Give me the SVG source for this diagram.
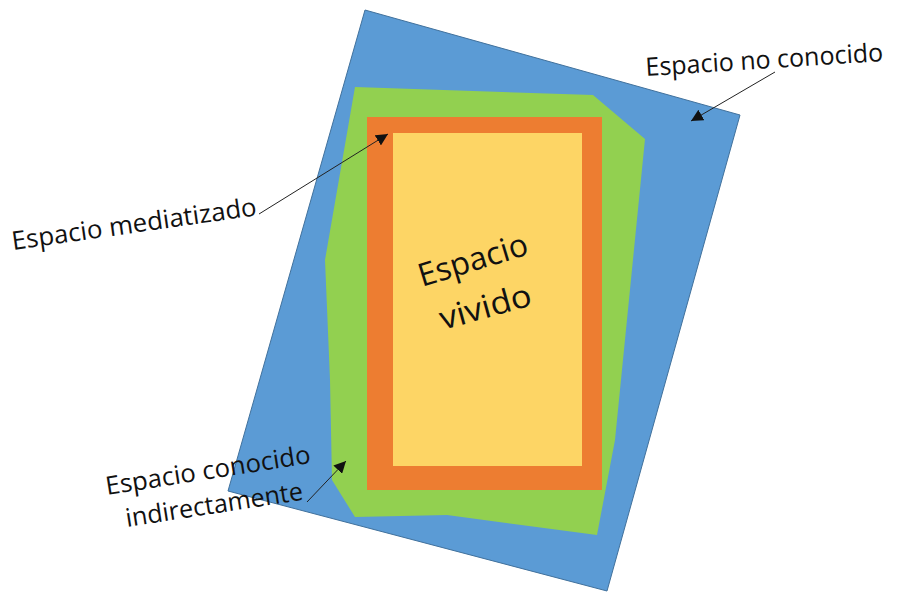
<svg xmlns="http://www.w3.org/2000/svg" width="898" height="596" viewBox="0 0 898 596">
<style>
.lbl{font-family:"Open Sans","Liberation Sans",sans-serif;font-size:25.5px;fill:#111}
.big{font-family:"Open Sans","Liberation Sans",sans-serif;font-size:32px;fill:#111}
.conn{stroke:#222;stroke-width:1;fill:none;marker-end:url(#ah)}
</style>
<defs>
<marker id="ah" viewBox="0 0 10 10" refX="10" refY="5" markerWidth="12" markerHeight="12" markerUnits="userSpaceOnUse" orient="auto">
<path d="M0,0 L10,5 L0,10 z" fill="#111"/>
</marker>
</defs>
<rect width="898" height="596" fill="#fff"/>
<g id="espacio-no-conocido">
<polygon points="365,10 740,115 607,591 228,491" fill="#5B9BD5" stroke="#41719C" stroke-width="1"/>
<text class="lbl" transform="translate(646,76) rotate(-3.6)" textLength="238" lengthAdjust="spacingAndGlyphs">Espacio no conocido</text>
</g>
<g id="espacio-conocido-indirectamente">
<polygon points="355,87 593,95 645,139 615,440 597,535 447,515 355,517 332,480 330,380 325,260" fill="#92D050"/>
<text class="lbl" transform="translate(107,495) rotate(-8.9)" textLength="207" lengthAdjust="spacingAndGlyphs">Espacio conocido</text>
<text class="lbl" transform="translate(127,527) rotate(-8.8)" textLength="179" lengthAdjust="spacingAndGlyphs">indirectamente</text>
</g>
<g id="espacio-mediatizado">
<rect x="367" y="117" width="235" height="373" fill="#ED7D31"/>
<text class="lbl" transform="translate(13,250) rotate(-8.1)" textLength="247" lengthAdjust="spacingAndGlyphs">Espacio mediatizado</text>
</g>
<g id="espacio-vivido">
<rect x="393" y="133" width="189" height="333" fill="#FDD565"/>
<text class="big" transform="translate(422,287) rotate(-17)" textLength="113" lengthAdjust="spacingAndGlyphs">Espacio</text>
<text class="big" transform="translate(443,330) rotate(-15.5)" textLength="94" lengthAdjust="spacingAndGlyphs">vivido</text>
</g>
<g id="connectors">
<line class="conn" x1="775" y1="72" x2="691" y2="121"/>
<line class="conn" x1="259" y1="214" x2="388" y2="134"/>
<line class="conn" x1="307" y1="502" x2="346" y2="461"/>
</g>
</svg>
